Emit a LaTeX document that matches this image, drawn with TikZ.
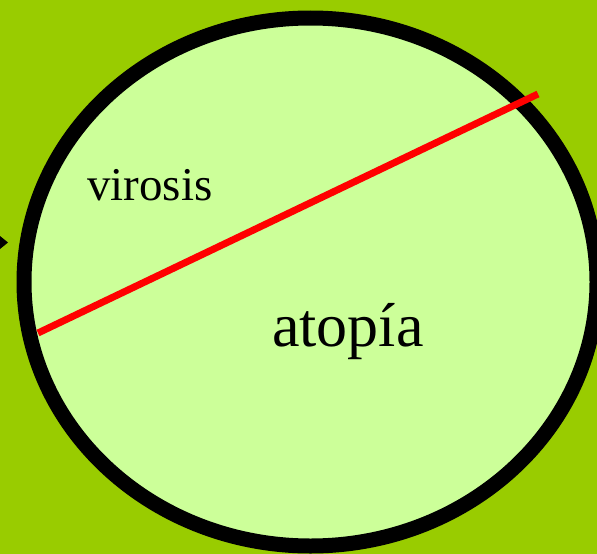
\documentclass[tikz,border=0pt]{standalone}
\usepackage{fontspec}
\setmainfont{Liberation Serif}
\definecolor{bggreen}{HTML}{99CC00}
\definecolor{palegreen}{HTML}{CCFF99}
\begin{document}
\begin{tikzpicture}[x=1pt,y=-1pt,
  blob/.style={draw=black,line width=15pt,fill=palegreen},
  divider/.style={draw=red,line width=7pt},
  lbl/.style={inner sep=0pt,anchor=base west,text=black}]
\fill[bggreen] (0,0) rectangle (597,554);
\useasboundingbox (0,0) rectangle (597,554);
\fill[black] (0,236) -- (8,242.5) -- (0,249) -- cycle;
\draw[blob] (310.5,282) ellipse [x radius=286.5pt, y radius=264pt];
\coordinate (l) at (38,333);
\coordinate (r) at (538,94);
\draw[divider] (l) -- (r);
\node[lbl,font=\fontsize{47}{50}\selectfont] (vir) at (87,200) {virosis};
\node[lbl,font=\fontsize{62}{66}\selectfont] (ato) at (272,346) {atopía};
\end{tikzpicture}
\end{document}
